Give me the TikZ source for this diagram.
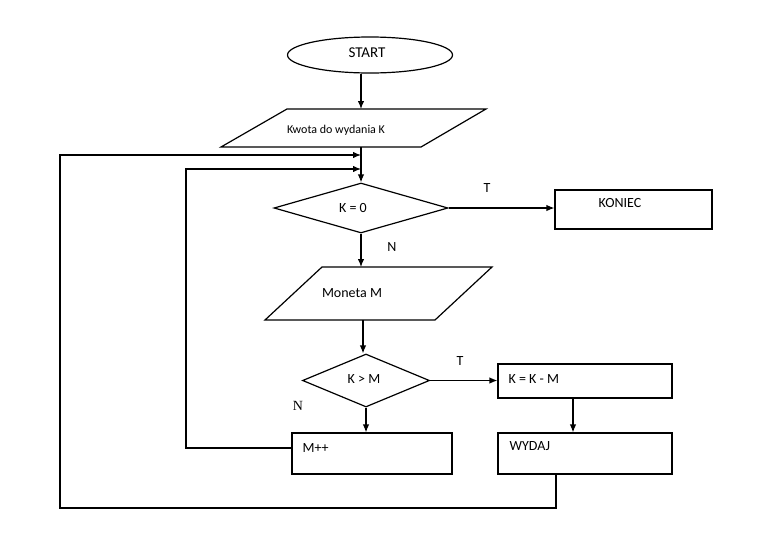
\documentclass[tikz,border=0pt]{standalone}
\usepackage{fontspec}
\setmainfont{Carlito}
\newfontfamily\serifN{Liberation Serif}
\usetikzlibrary{shapes.geometric,arrows.meta}
\begin{document}
\begin{tikzpicture}[x=1pt,y=-1pt, line width=1.2pt,
  arr/.style={-{Latex[length=8pt,width=6.5pt]}},
  txt/.style={inner sep=0pt, font=\fontsize{14}{16}\selectfont},
  lbl/.style={inner sep=0pt, font=\fontsize{14}{16}\selectfont},
  box/.style={draw, rectangle, inner sep=0pt},
  dia/.style={draw, diamond, inner sep=0pt},
]
\useasboundingbox[fill=white] (0,0) rectangle (758,533);
% START
\node[draw, ellipse, minimum width=165pt, minimum height=36pt, inner sep=0pt] (start) at (370,55) {};
\node[txt, font=\fontsize{15}{17}\selectfont] (startt) at (367,53) {START};
% input K
\coordinate (p1a) at (287,109); \coordinate (p1b) at (486,109);
\coordinate (p1c) at (421,147); \coordinate (p1d) at (221,147);
\draw (p1a) -- (p1b) -- (p1c) -- (p1d) -- cycle;
\coordinate (p1top) at (361,109); \coordinate (p1bot) at (361,147);
\node[txt, font=\fontsize{12}{14}\selectfont] (kwota) at (336,130) {Kwota do wydania K};
% K = 0
\node[dia, minimum width=174pt, minimum height=50pt] (k0) at (361,208) {};
\node[txt] (k0t) at (353,208) {K = 0};
% KONIEC
\node[box, minimum width=157pt, minimum height=39pt] (koniec) at (633.5,209.5) {};
\node[txt] (koniect) at (620,203) {KONIEC};
% Moneta M
\coordinate (p2a) at (322,267); \coordinate (p2b) at (492,267);
\coordinate (p2c) at (435,320); \coordinate (p2d) at (265,320);
\draw (p2a) -- (p2b) -- (p2c) -- (p2d) -- cycle;
\coordinate (p2top) at (361,267); \coordinate (p2bot) at (363,320);
\node[txt] (monetat) at (352,293) {Moneta M};
% K > M
\node[dia, minimum width=127pt, minimum height=53pt] (kgm) at (366,380.5) {};
\node[txt] (kgmt) at (364,379) {K > M};
% K = K - M
\node[box, minimum width=174pt, minimum height=34pt] (kkm) at (585,381) {};
\node[txt, anchor=west] (kkmt) at (508,379) {K = K - M};
% M++
\node[box, minimum width=160pt, minimum height=41pt] (mpp) at (372,453.5) {};
\node[txt, anchor=west] (mppt) at (302,448) {M++};
% WYDAJ
\node[box, minimum width=174pt, minimum height=41pt] (wydaj) at (585,453.5) {};
\node[txt, anchor=west] (wydajt) at (509,446) {WYDAJ};
% labels
\node[lbl] (t1) at (487,188) {T};
\node[lbl] (n1) at (392,247) {N};
\node[lbl] (t2) at (460,361) {T};
\node[inner sep=0pt, font=\serifN\fontsize{14}{16}\selectfont] (n2) at (298,406) {N};
% junctions
\coordinate (j1) at (361,155);
\coordinate (j2) at (361,169);
\coordinate (lb) at (60,508);
\coordinate (lm) at (186,169);
% connectors
\draw[arr] (start.south -| p1top) -- (p1top);
\draw[arr] (p1bot) -- (k0.north);
\draw[arr] (k0.east) -- (koniec.west |- k0.east);
\draw[arr] (k0.south) -- (p2top);
\draw[arr] (p2bot) -- (p2bot |- kgm.north);
\draw[arr] (kgm.east) -- (kgm.east -| kkm.west);
\draw[arr] (kgm.south) -- (kgm.south |- mpp.north);
\draw[arr] ([xshift=-12pt]kkm.south) -- ([xshift=-12pt]wydaj.north);
\draw[arr] ([xshift=-29pt]wydaj.south) |- (lb) |- (j1);
\draw[arr] ([yshift=5.5pt]mpp.west) -| (lm) -- (j2);
\end{tikzpicture}
\end{document}
